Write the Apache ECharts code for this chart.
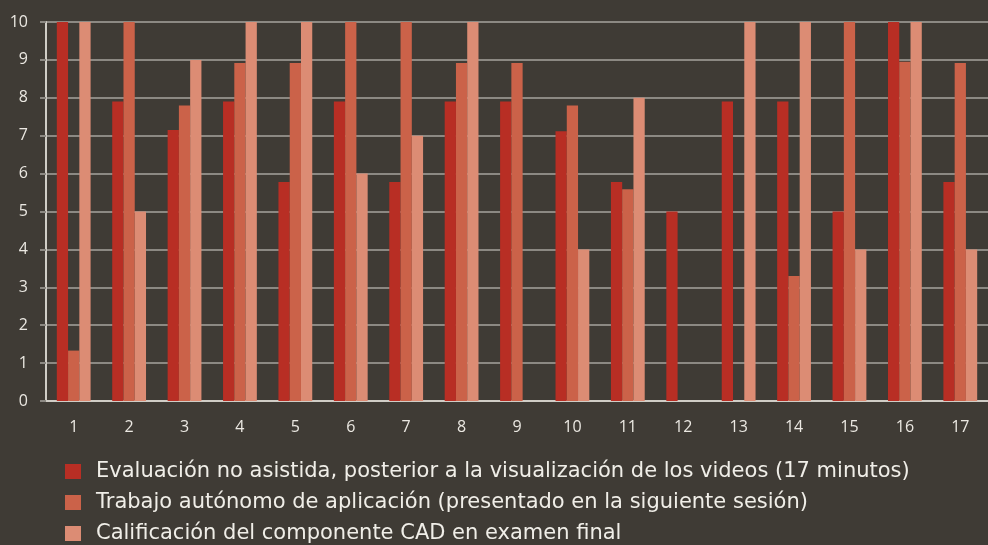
<!DOCTYPE html>
<html>
<head>
<meta charset="utf-8">
<script src="https://cdn.jsdelivr.net/npm/echarts@6/dist/echarts.min.js"></script>
<style>
  html, body { margin: 0; padding: 0; background: #3f3b35; }
  #chart { width: 988px; height: 545px; }
</style>
</head>
<body>
<div id="chart"></div>
<script>
// Students 1..17
const categories = ['1','2','3','4','5','6','7','8','9','10','11','12','13','14','15','16','17'];

const seriesNames = [
  'Evaluación no asistida, posterior a la visualización de los videos (17 minutos)',
  'Trabajo autónomo de aplicación (presentado en la siguiente sesión)',
  'Calificación del componente CAD en examen final'
];

// Unassisted evaluation after the videos
const evaluacion = [10, 7.9, 7.15, 7.9, 5.78, 7.9, 5.78, 7.9, 7.9, 7.12, 5.78, 5, 7.9, 7.9, 5, 10, 5.78];
// Autonomous application work
const trabajo = [1.33, 10, 7.8, 8.92, 8.92, 10, 10, 8.92, 8.92, 7.8, 5.59, 0, 0, 3.3, 10, 8.95, 8.92];
// CAD component in final exam
const examen = [10, 5, 9, 10, 10, 6, 7, 10, 0, 4, 8, 0, 10, 10, 4, 10, 4];

const yTicks = [0, 10, 1]; // min, max, interval

const colors = ['#b82e24', '#cb6249', '#dc8c74'];

const chart = echarts.init(document.getElementById('chart'));

const makeSeries = (name, data) => ({
  name, type: 'bar', data,
  barGap: '0%', barCategoryGap: '39%'
});

chart.setOption({
  backgroundColor: '#3f3b35',
  animation: false,
  color: colors,
  textStyle: { fontFamily: 'Open Sans' },
  grid: { left: 46, right: -10, top: 22, bottom: 144 },
  xAxis: {
    type: 'category',
    data: categories,
    axisLine: { lineStyle: { color: '#d0cdc6', width: 2 } },
    axisTick: { show: false },
    axisLabel: { color: '#ebe8e2', fontSize: 16, margin: 18, fontFamily: 'Open Sans' }
  },
  yAxis: {
    type: 'value',
    min: yTicks[0], max: yTicks[1], interval: yTicks[2],
    axisLine: { show: true, lineStyle: { color: '#d0cdc6', width: 2 } },
    axisTick: { show: true, length: 6, lineStyle: { color: '#8c8983', width: 2 } },
    splitLine: { lineStyle: { color: '#8c8983', width: 2 } },
    axisLabel: { color: '#ebe8e2', fontSize: 16, margin: 18, fontFamily: 'Open Sans', padding: [0, 0, 5, 0] }
  },
  legend: {
    orient: 'vertical',
    left: 65, top: 461, height: 100,
    padding: 0,
    itemWidth: 16, itemHeight: 15,
    itemGap: 10,
    icon: 'rect',
    textStyle: { color: '#f0eee8', fontSize: 21, fontFamily: 'DejaVu Sans', padding: [0, 0, 0, 10] },
    data: seriesNames
  },
  series: [
    makeSeries(seriesNames[0], evaluacion),
    makeSeries(seriesNames[1], trabajo),
    makeSeries(seriesNames[2], examen)
  ]
});
</script>
</body>
</html>
